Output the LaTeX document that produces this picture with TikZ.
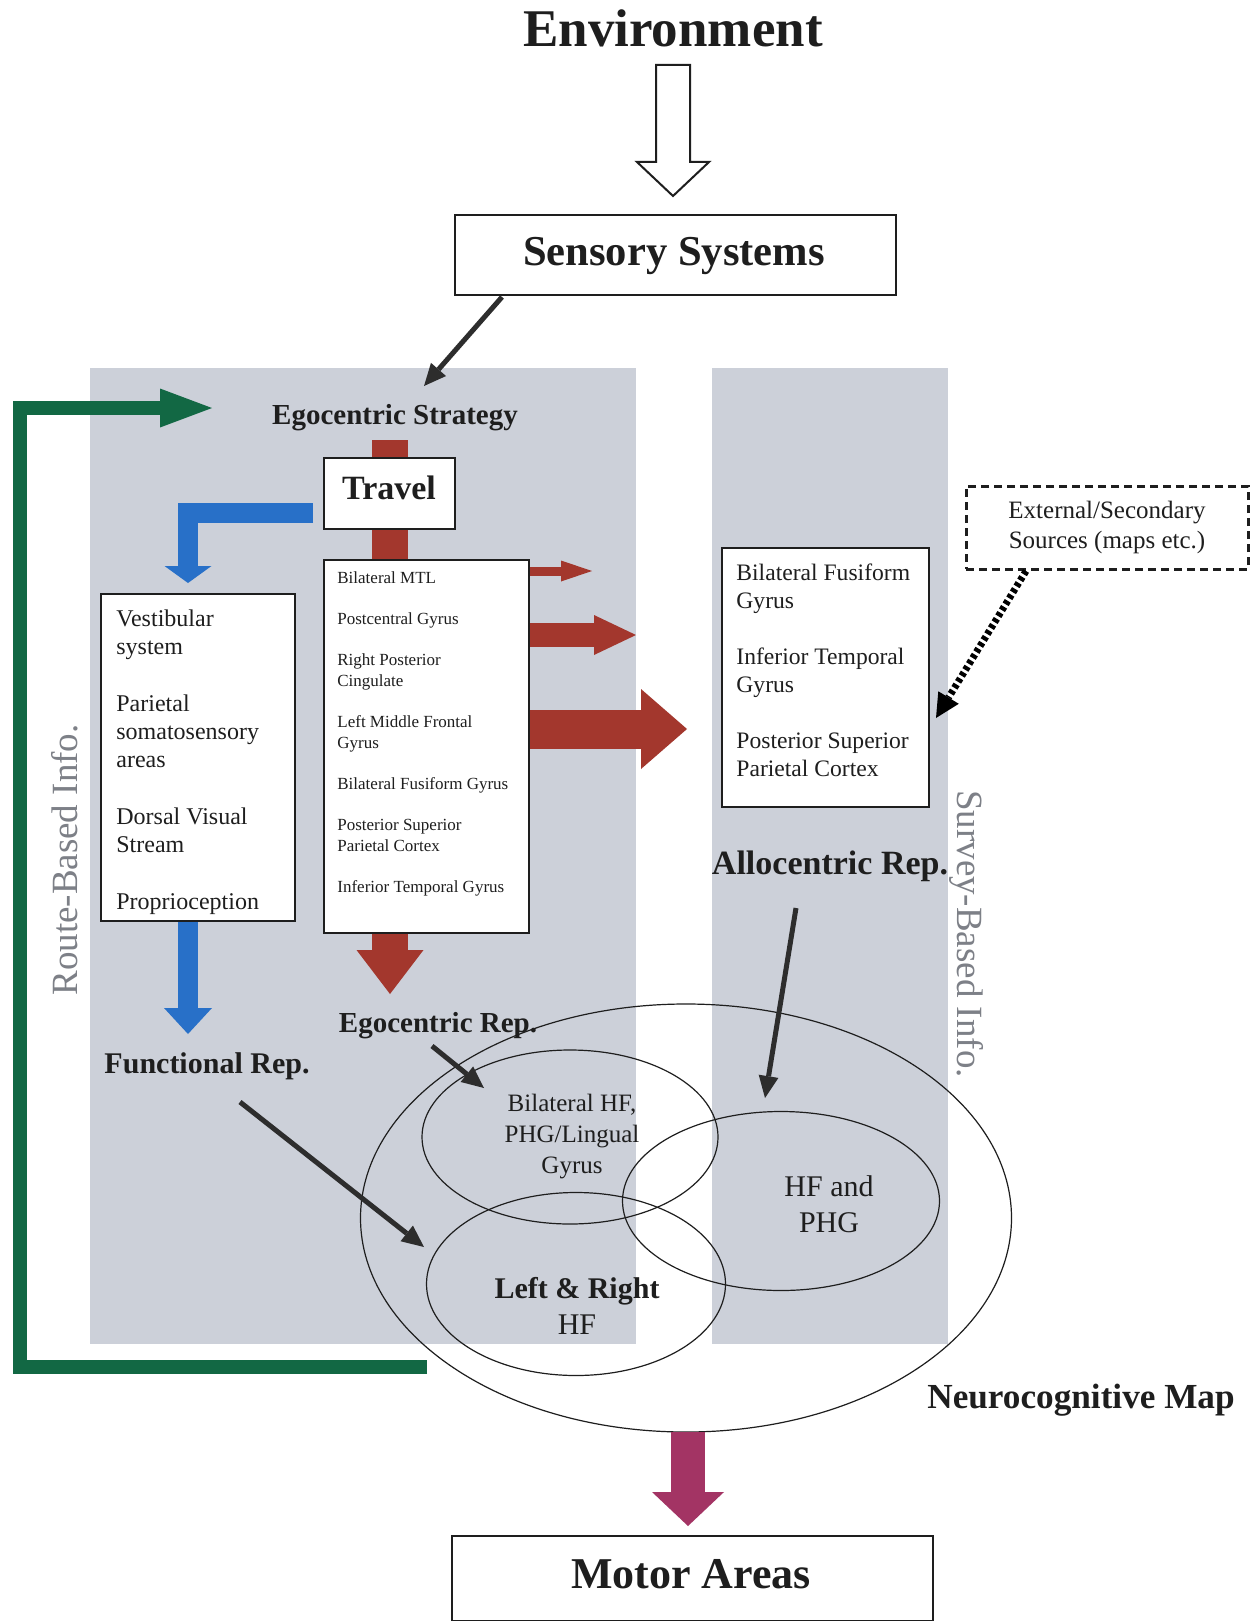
\documentclass[tikz,border=0pt]{standalone}
\usepackage{fontspec}
\setmainfont{Liberation Serif}
\usetikzlibrary{arrows.meta,shapes.geometric}
\definecolor{panelgray}{RGB}{204,208,217}
\definecolor{arrred}{RGB}{163,55,45}
\definecolor{arrblue}{RGB}{40,112,200}
\definecolor{arrgreen}{RGB}{18,104,68}
\definecolor{arrmag}{RGB}{163,52,100}
\definecolor{darkarr}{RGB}{45,45,45}
\definecolor{sidegray}{RGB}{125,128,135}
\definecolor{inkc}{RGB}{30,30,30}
\newcommand{\myfs}[2]{\fontsize{#1}{#2}\selectfont}
\begin{document}
\begin{tikzpicture}[x=0.5pt,y=-0.5pt,
  every node/.style={inner sep=0pt, text=inkc},
  boxst/.style={draw=inkc, line width=0.8pt, fill=white},
  blk/.style={draw=darkarr, line width=2.5pt, -{Triangle[width=10pt,length=11pt,line width=0pt]}},
  ringst/.style={draw=inkc, line width=0.6pt, ellipse},
  headtxt/.style={font=\bfseries\myfs{#1}{#1}, anchor=base},
]
\useasboundingbox (0,0) rectangle (1255,1621);
\fill[white] (0,0) rectangle (1255,1621);
% panels
\fill[panelgray] (90,368) rectangle (636,1344);
\fill[panelgray] (712,368) rectangle (948,1344);
\node (route) [rotate=90, font=\myfs{18.5pt}{20pt}, text=sidegray] at (65,860) {Route-Based Info.};
\node (survey) [rotate=-90, font=\myfs{18.5pt}{20pt}, text=sidegray] at (967,934) {Survey-Based Info.};

% top
\node (env) [headtxt=26.5pt] at (673,47) {Environment};
\draw[draw=inkc, line width=1pt, fill=white, line join=miter] (656,65) -- (690,65) -- (690,162) -- (709,162) -- (673,196) -- (637,162) -- (656,162) -- cycle;
\node (sens) [boxst, minimum width=220.5pt, minimum height=40pt] at (675.5,255) {};
\node (senst) [headtxt=21.3pt] at (674,265) {Sensory Systems};
\node (egostr) [headtxt=14.5pt] at (395,424) {Egocentric Strategy};
\coordinate (s1) at (502,297);
\coordinate (s2) at (424,386);
\draw[blk] (s1) -- (s2);

% green feedback arrow
\coordinate (g1) at (427,1367);
\coordinate (gc) at (20,408);
\coordinate (g2) at (212,408);
\draw[arrgreen, line width=7pt, line join=miter, -{Triangle[width=19.5pt,length=26pt,line width=0pt]}] (g1) -| (gc) -- (g2);

% red main arrow
\coordinate (rtop) at (390,440);
\coordinate (rtip) at (390,994);
\draw[arrred, line width=18pt, -{Triangle[width=33.5pt,length=22pt,line width=0pt]}] (rtop) -- (rtip);
\coordinate (r1a) at (529,571); \coordinate (r1b) at (592,571);
\coordinate (r2a) at (529,635); \coordinate (r2b) at (636,635);
\coordinate (r3a) at (529,729); \coordinate (r3b) at (687,729);
\draw[arrred, line width=4.5pt, -{Triangle[width=10.5pt,length=15.5pt,line width=0pt]}] (r1a) -- (r1b);
\draw[arrred, line width=12pt, -{Triangle[width=20pt,length=21pt,line width=0pt]}] (r2a) -- (r2b);
\draw[arrred, line width=19.5pt, -{Triangle[width=40pt,length=23pt,line width=0pt]}] (r3a) -- (r3b);

% blue arrows
\coordinate (b1) at (313,513);
\coordinate (b2) at (188,583);
\draw[arrblue, line width=10pt, line join=miter, -{Triangle[width=23.5pt,length=8.5pt,line width=0pt]}] (b1) -| (b2);
\coordinate (bd1) at (188,921);
\coordinate (bd2) at (188,1034);
\draw[arrblue, line width=10pt, -{Triangle[width=24pt,length=13pt,line width=0pt]}] (bd1) -- (bd2);

% travel
\node (travel) [boxst, minimum width=65.5pt, minimum height=35.5pt] at (389.5,493.5) {};
\node (travelt) [headtxt=17pt] at (389,499) {Travel};

% vestibular box
\node (vest) [boxst, minimum width=97pt, minimum height=163.5pt] at (198,757.5) {};
\node (vestt) [anchor=north west, align=left, font=\myfs{12pt}{14pt}] at (116,609)
  {Vestibular\\system\\[14.5pt]Parietal\\somatosensory\\areas\\[14.5pt]Dorsal Visual\\Stream\\[14.5pt]Proprioception};
\node (func) [headtxt=15pt] at (207,1073) {Functional Rep.};

% list box
\node (list) [boxst, minimum width=102.5pt, minimum height=186.5pt] at (426.5,746.5) {};
\node (listt) [anchor=north west, align=left, font=\myfs{8.5pt}{10.5pt}] at (337,571)
  {Bilateral MTL\\[10pt]Postcentral Gyrus\\[10pt]Right Posterior\\Cingulate\\[10pt]Left Middle Frontal\\Gyrus\\[10pt]Bilateral Fusiform Gyrus\\[10pt]Posterior Superior\\Parietal Cortex\\[10pt]Inferior Temporal Gyrus};
\node (egorep) [headtxt=14.5pt] at (438,1032) {Egocentric Rep.};

% right box
\node (rbox) [boxst, minimum width=103.5pt, minimum height=129.5pt] at (825.5,677.5) {};
\node (rboxt) [anchor=north west, align=left, font=\myfs{11.8pt}{14pt}] at (736,563)
  {Bilateral Fusiform\\Gyrus\\[14pt]Inferior Temporal\\Gyrus\\[14pt]Posterior Superior\\Parietal Cortex};
\node (allo) [headtxt=17pt] at (830,874) {Allocentric Rep.};

% external
\node (ext) [draw=inkc, line width=1.5pt, dash pattern=on 4pt off 2.5pt, minimum width=141pt, minimum height=41.5pt, align=center, font=\myfs{12.5pt}{15pt}] at (1107,527.5) {External/Secondary\\Sources (maps etc.)};
\coordinate (d1) at (1026,571);
\coordinate (d2) at (936,718);
\draw[black, line width=3.5pt, dash pattern=on 2pt off 1.5pt, -{Triangle[width=12pt,length=12pt,line width=0pt]}] (d1) -- (d2);

% ellipses
\node (mapell) [ringst, minimum width=325.5pt, minimum height=214pt] at (686,1218) {};
\node (ell1) [ringst, minimum width=148pt, minimum height=87pt] at (570,1137) {};
\node (ell2) [ringst, minimum width=158.5pt, minimum height=89.5pt] at (781,1201) {};
\node (ell3) [ringst, minimum width=149.5pt, minimum height=91.5pt] at (576,1284) {};
\node (ell1t) [align=center, font=\myfs{12.5pt}{15.5pt}] at (572,1137) {Bilateral HF,\\PHG/Lingual\\Gyrus};
\node (ell2t) [align=center, font=\myfs{15pt}{18pt}] at (829,1204) {HF and\\PHG};
\node (ell3t) [align=center, font=\myfs{15pt}{18pt}] at (577,1306) {{\bfseries Left \& Right}\\HF};
\node (nmap) [headtxt=17.6pt] at (1081,1408) {Neurocognitive Map};

% black arrows
\coordinate (a1) at (796,908); \coordinate (a2) at (765,1098);
\coordinate (e1) at (432,1046); \coordinate (e2) at (484,1088);
\coordinate (f1) at (240,1102); \coordinate (f2) at (424,1247);
\draw[blk] (a1) -- (a2);
\draw[blk] (e1) -- (e2);
\draw[blk] (f1) -- (f2);

% motor
\coordinate (m1) at (688,1432);
\coordinate (m2) at (688,1526);
\draw[arrmag, line width=17pt, -{Triangle[width=36pt,length=17pt,line width=0pt]}] (m1) -- (m2);
\node (motor) [boxst, minimum width=240.5pt, minimum height=42.5pt] at (692.5,1578.5) {};
\node (motort) [headtxt=22pt] at (691,1588) {Motor Areas};
\end{tikzpicture}
\end{document}
